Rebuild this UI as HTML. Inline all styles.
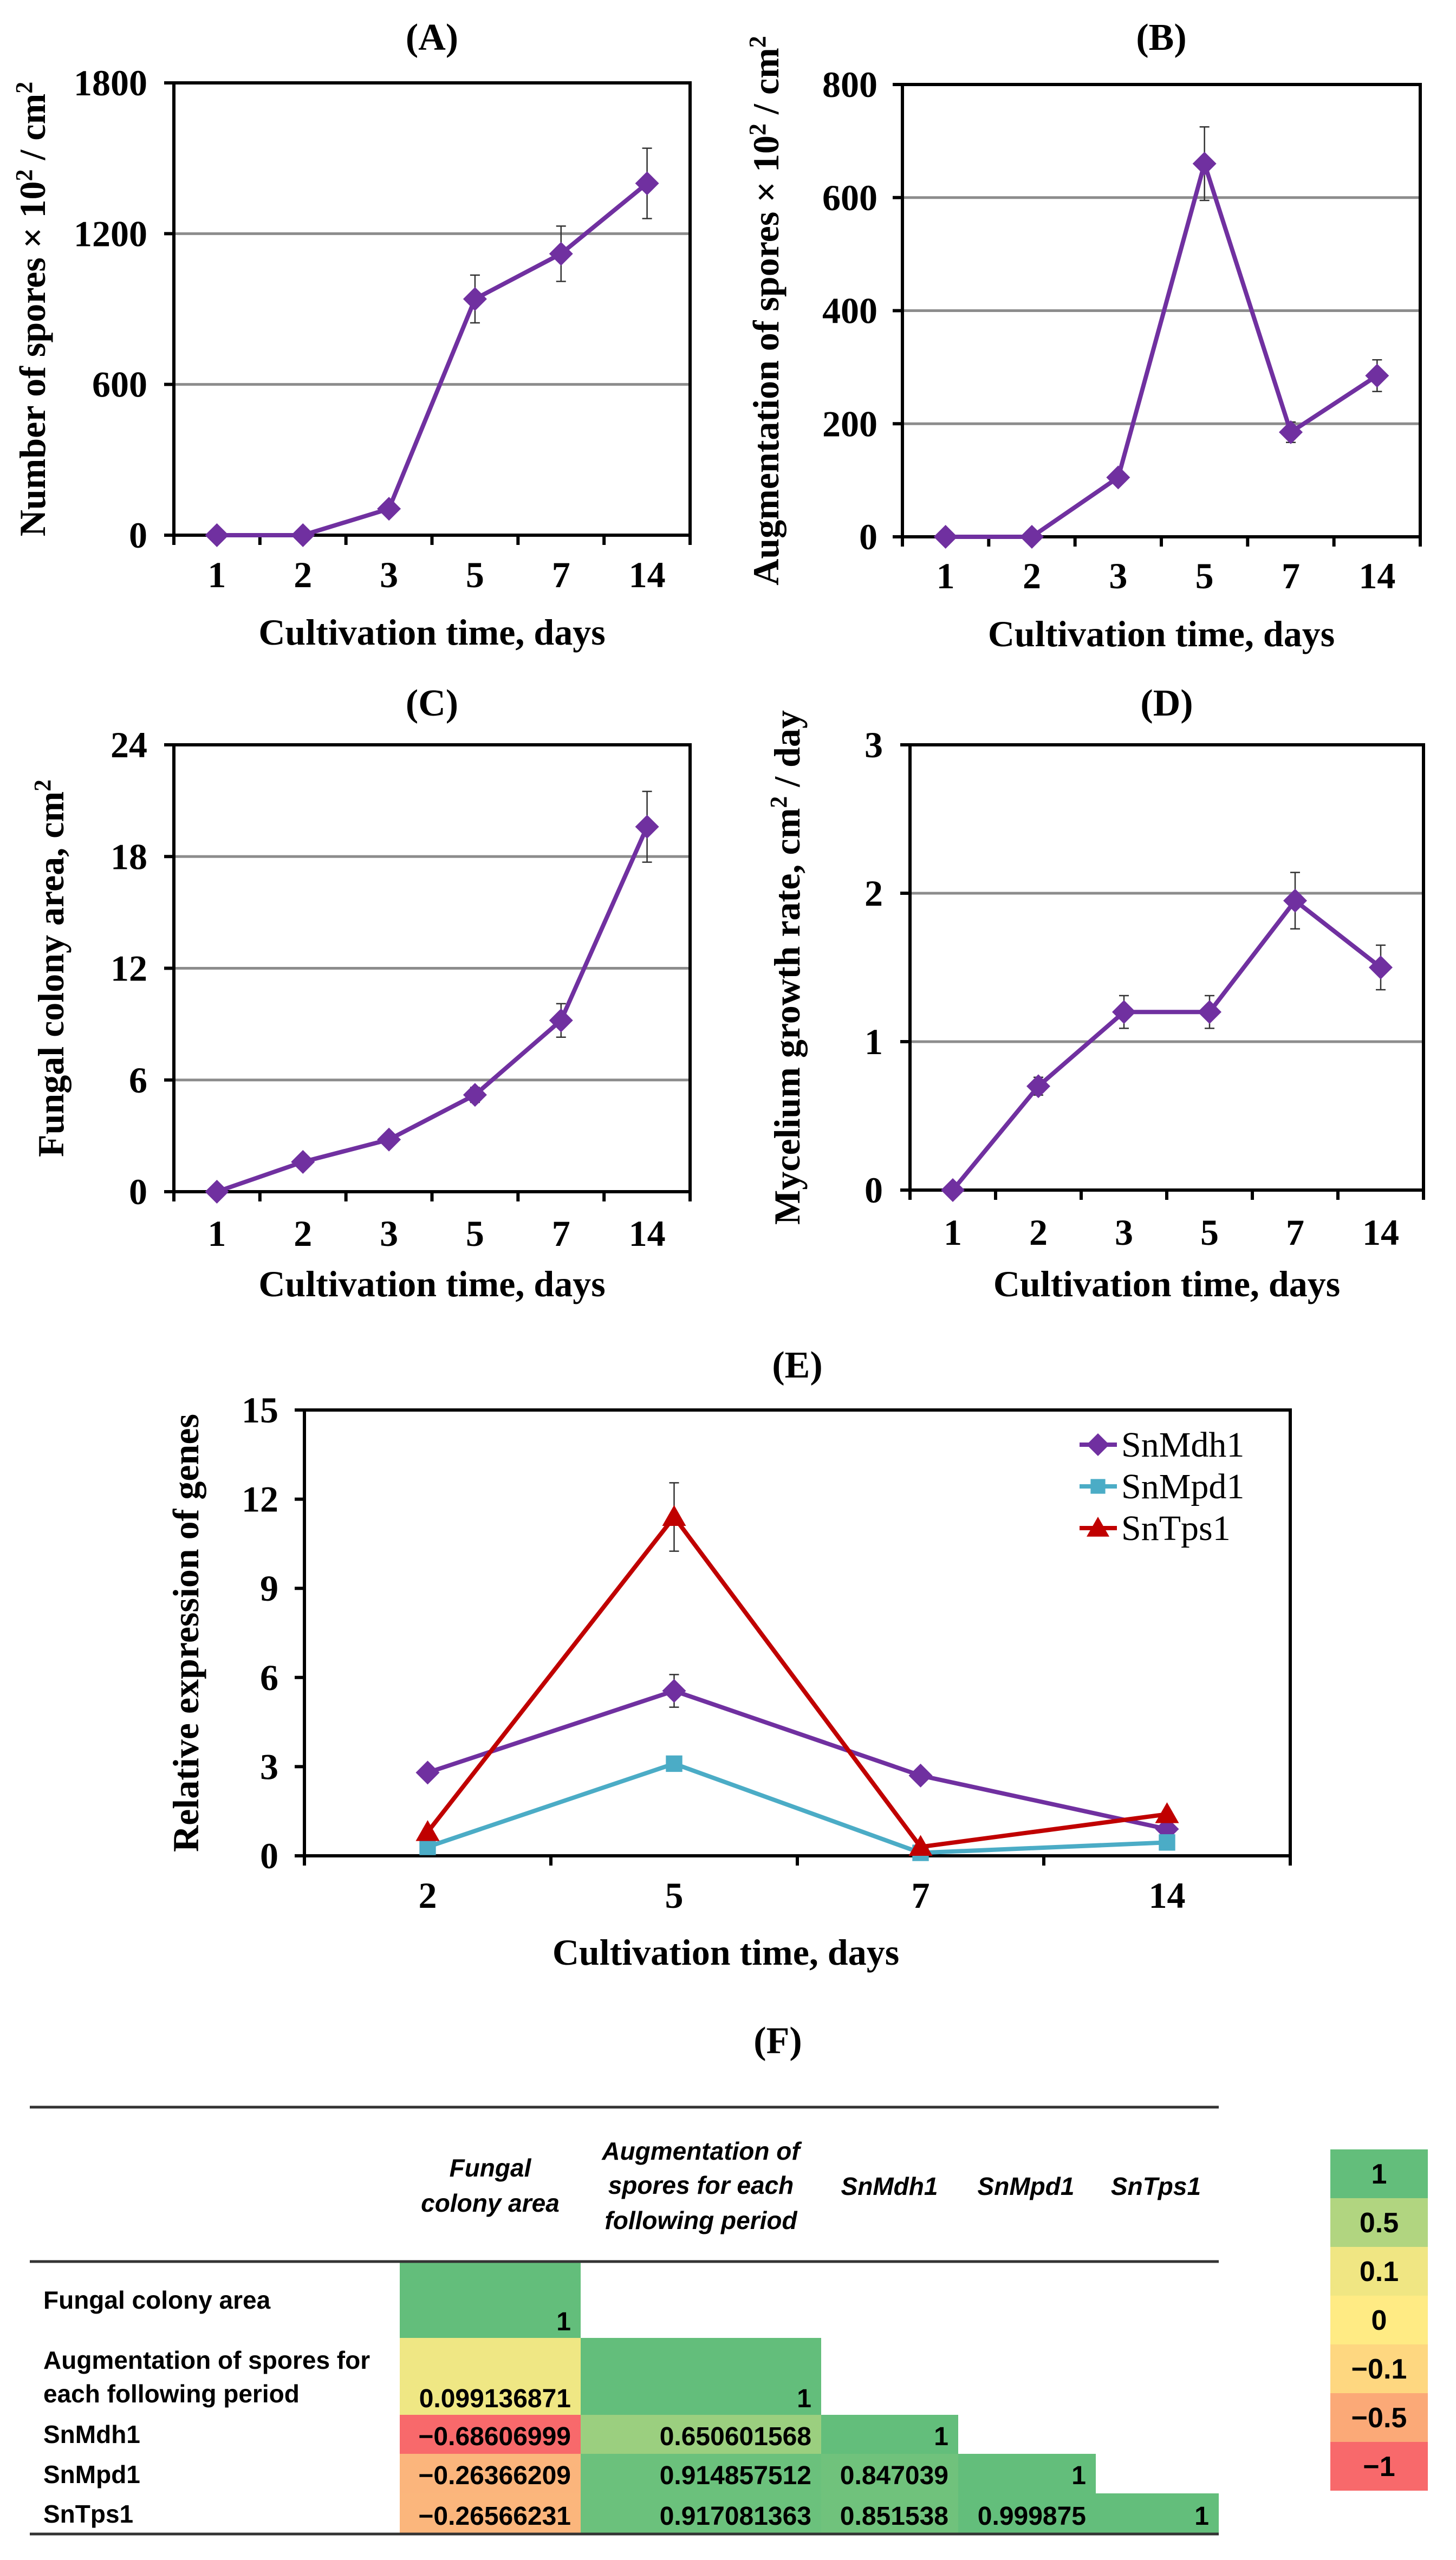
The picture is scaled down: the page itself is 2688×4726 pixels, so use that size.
<!DOCTYPE html>
<html><head><meta charset="utf-8">
<style>
html,body{margin:0;padding:0;background:#fff;}
svg{display:block;}
.t{font-family:"Liberation Serif",serif;font-weight:bold;fill:#000;}
.c{font-family:"Liberation Sans",sans-serif;fill:#000;}
</style></head>
<body>
<svg id="root" xmlns="http://www.w3.org/2000/svg" width="2688" height="4726" viewBox="0 0 2688 4726">
<rect x="0" y="0" width="2688" height="4726" fill="#fff"/>
</svg>
<script>
// ---------- data ----------
const daysAD = ["1","2","3","5","7","14"];
const sporesA = [0, 0, 105, 940, 1120, 1400];
const sporesAErr = [0, 0, 15, 95, 110, 140];
const augB = [0, 0, 105, 660, 185, 285];
const augBErr = [0, 0, 8, 65, 18, 28];
const areaC = [0, 1.6, 2.8, 5.2, 9.2, 19.6];
const areaCErr = [0, 0.2, 0.3, 0.4, 0.9, 1.9];
const rateD = [0, 0.7, 1.2, 1.2, 1.95, 1.5];
const rateDErr = [0, 0.06, 0.11, 0.11, 0.19, 0.15];
const ticksA = [0, 600, 1200, 1800];
const ticksB = [0, 200, 400, 600, 800];
const ticksC = [0, 6, 12, 18, 24];
const ticksD = [0, 1, 2, 3];
const daysE = ["2","5","7","14"];
const mdh1 = [2.8, 5.55, 2.7, 0.9];
const mdh1Err = [0.1, 0.55, 0.15, 0.1];
const mpd1 = [0.3, 3.1, 0.1, 0.45];
const mpd1Err = [0.05, 0.1, 0.03, 0.05];
const tps1 = [0.8, 11.4, 0.3, 1.4];
const tps1Err = [0.1, 1.15, 0.05, 0.1];
const ticksE = [0, 3, 6, 9, 12, 15];

const NS = "http://www.w3.org/2000/svg";
const root = document.getElementById("root");
function mk(tag, attrs, parent, text){
  const e = document.createElementNS(NS, tag);
  for (const k in attrs) e.setAttribute(k, attrs[k]);
  if (text !== undefined) e.textContent = text;
  (parent || root).appendChild(e);
  return e;
}
const PURPLE = "#7030a0";
const FS = 68;

function marker(g, shape, x, y, color, s){
  let m;
  if (shape === "diamond") {
    m = mk("polygon", {points:`${x},${y-s} ${x+s},${y} ${x},${y+s} ${x-s},${y}`, fill:color}, g);
  } else if (shape === "square") {
    m = mk("rect", {x:x-s*0.8, y:y-s*0.8, width:s*1.6, height:s*1.6, fill:color}, g);
  } else {
    m = mk("polygon", {points:`${x},${y-s} ${x+s},${y+s*0.75} ${x-s},${y+s*0.75}`, fill:color}, g);
  }
  return m;
}

function chart(o){
  const g = mk("g", {});
  
  
  const n = o.cats.length;
  const bw = (o.right - o.left) / n;
  const xs = i => o.left + bw * (i + 0.5);
  const ymax = o.ticks[o.ticks.length - 1];
  const ys = v => o.zero - (v / ymax) * (o.zero - o.top);
  if (o.grid) {
    o.ticks.forEach((t, i) => {
      if (i === 0 || i === o.ticks.length - 1) return;
      const gl = mk("line", {x1:o.left, x2:o.right, y1:ys(t), y2:ys(t), stroke:"#8c8c8c", "stroke-width":5}, g);
      
      
    });
  }
  const fr = mk("rect", {x:o.left, y:o.top, width:o.right-o.left, height:o.zero-o.top, fill:"none", stroke:"#000", "stroke-width":6}, g);
  
  
  o.ticks.forEach(t => {
    mk("line", {x1:o.left-18, x2:o.left, y1:ys(t), y2:ys(t), stroke:"#000", "stroke-width":6}, g);
    const tl = mk("text", {x:o.labRight, y:ys(t)+23, "text-anchor":"end", "font-size":FS, class:"t"}, g, String(t));
    
    
  });
  for (let i = 0; i <= n; i++) {
    const x = o.left + bw * i;
    mk("line", {x1:x, x2:x, y1:o.zero, y2:o.zero+18, stroke:"#000", "stroke-width":6}, g);
  }
  o.cats.forEach((c, i) => {
    const tl = mk("text", {x:xs(i), y:o.tickY+23, "text-anchor":"middle", "font-size":FS, class:"t"}, g, c);
    
    
  });
  const tt = mk("text", {x:(o.left+o.right)/2, y:o.titleY+23, "text-anchor":"middle", "font-size":70, class:"t"}, g, o.title);
  
  
  const xl = mk("text", {x:o.xlabX || (o.left+o.right)/2, y:o.xlabY+23, "text-anchor":"middle", "font-size":FS, class:"t"}, g, "Cultivation time, days");
  
  
  const cy = o.ylabY || (o.top + o.zero) / 2;
  const yl = mk("text", {x:0, y:0, transform:`translate(${o.ylabX+23},${cy}) rotate(-90)`, "text-anchor":"middle", "font-size":FS, class:"t"}, g);
  
  
  o.ylab.forEach(p => {
    mk("tspan", p.sup ? {"baseline-shift":"super", "font-size":44} : {}, yl, p.t);
  });
  o.series.forEach(s => {
    const sg = mk("g", {}, g);
    
    
    s.err.forEach((e, i) => {
      if (e <= 0) return;
      const x = xs(i), y1 = ys(s.vals[i]-e), y2 = ys(s.vals[i]+e);
      mk("line", {x1:x, x2:x, y1:y1, y2:y2, stroke:"#333", "stroke-width":2.5}, sg);
      mk("line", {x1:x-9, x2:x+9, y1:y1, y2:y1, stroke:"#333", "stroke-width":2.5}, sg);
      mk("line", {x1:x-9, x2:x+9, y1:y2, y2:y2, stroke:"#333", "stroke-width":2.5}, sg);
    });
    const pts = s.vals.map((v, i) => `${xs(i)},${ys(v)}`).join(" ");
    const pl = mk("polyline", {points:pts, fill:"none", stroke:s.color, "stroke-width":8, "stroke-linejoin":"round"}, sg);
    
    
    s.vals.forEach((v, i) => {
      const m = marker(sg, s.shape, xs(i), ys(v), s.color, s.size || 22);
      
      
    });
  });
  return {g, xs, ys};
}

chart({name:"chart-a-spores", title:"(A)", cats:daysAD, ticks:ticksA, grid:true,
  left:321, right:1274, top:153, zero:988, labRight:272, tickY:1061, titleY:69, xlabY:1167, ylabX:60,
  ylab:[{t:"Number of spores × 10"},{t:"2",sup:true},{t:" / cm"},{t:"2",sup:true}],
  series:[{name:"series-spores", vals:sporesA, err:sporesAErr, color:PURPLE, shape:"diamond"}]});

chart({name:"chart-b-augmentation", title:"(B)", cats:daysAD, ticks:ticksB, grid:true,
  left:1666, right:2622, top:156, zero:991, labRight:1620, tickY:1063, titleY:69, xlabY:1170, ylabX:1414,
  ylab:[{t:"Augmentation of spores × 10"},{t:"2",sup:true},{t:" / cm"},{t:"2",sup:true}],
  series:[{name:"series-augmentation", vals:augB, err:augBErr, color:PURPLE, shape:"diamond"}]});

chart({name:"chart-c-colony-area", title:"(C)", cats:daysAD, ticks:ticksC, grid:true,
  left:321, right:1274, top:1375, zero:2200, labRight:272, tickY:2277, titleY:1298, xlabY:2370, ylabX:94,
  ylab:[{t:"Fungal colony area,  cm"},{t:"2",sup:true}],
  series:[{name:"series-colony-area", vals:areaC, err:areaCErr, color:PURPLE, shape:"diamond"}]});

chart({name:"chart-d-growth-rate", title:"(D)", cats:daysAD, ticks:ticksD, grid:true,
  left:1680, right:2628, top:1375, zero:2197, labRight:1630, tickY:2275, titleY:1298, xlabY:2370, ylabX:1453,
  ylab:[{t:"Mycelium growth rate,  cm"},{t:"2",sup:true},{t:" / day"}],
  series:[{name:"series-growth-rate", vals:rateD, err:rateDErr, color:PURPLE, shape:"diamond"}]});

chart({name:"chart-e-gene-expression", title:"(E)", cats:daysE, ticks:ticksE, grid:false,
  left:562, right:2382, top:2603, zero:3426, labRight:514, tickY:3499, titleY:2520, xlabY:3604, xlabX:1340, ylabX:343,
  ylab:[{t:"Relative expression of genes"}],
  series:[
    {name:"series-snmdh1", vals:mdh1, err:mdh1Err, color:PURPLE, shape:"diamond"},
    {name:"series-snmpd1", vals:mpd1, err:mpd1Err, color:"#4bacc6", shape:"square", size:19},
    {name:"series-sntps1", vals:tps1, err:tps1Err, color:"#c00000", shape:"triangle"}
  ]});

const legNames = ["SnMdh1","SnMpd1","SnTps1"];
const legColors = [PURPLE, "#4bacc6", "#c00000"];
const legShapes = ["diamond","square","triangle"];
const lg = mk("g", {});


legNames.forEach((nm, i) => {
  const y = 2667 + i * 77;
  const eg = mk("g", {}, lg);
  
  
  mk("line", {x1:1993, x2:2062, y1:y, y2:y, stroke:legColors[i], "stroke-width":8}, eg);
  marker(eg, legShapes[i], 2027, y, legColors[i], legShapes[i]==="square"?17:21);
  mk("text", {x:2070, y:y+22, "font-size":66, "font-family":"Liberation Serif, serif", fill:"#000"}, eg, nm);
});

// ---------- table F ----------
const ft = mk("text", {x:1436, y:3767+23, "text-anchor":"middle", "font-size":70, class:"t"}, root, "(F)");



const tg = mk("g", {});


const colX = [738, 1072, 1516, 1769, 2023, 2250];
const rowY = [4175, 4316, 4458, 4530, 4603, 4678];
const rowLabels = [["Fungal colony area"],["Augmentation of  spores for","each following period"],["SnMdh1"],["SnMpd1"],["SnTps1"]];
const rowLabelY = [[4246],[4357,4419],[4494],[4568],[4641]];
const corr = [
  ["1"],
  ["0.099136871","1"],
  ["\u22120.68606999","0.650601568","1"],
  ["\u22120.26366209","0.914857512","0.847039","1"],
  ["\u22120.26566231","0.917081363","0.851538","0.999875","1"]];
const colors = [
  ["#63be7b"],
  ["#efe784","#63be7b"],
  ["#f8696b","#9bcf7f","#63be7b"],
  ["#fbb57c","#6bc17c","#70c27c","#63be7b"],
  ["#fbb67c","#6bc17c","#70c27c","#63be7b","#63be7b"]];
const valY = [4285, 4427, 4497, 4569, 4644];

corr.forEach((row, r) => {
  row.forEach((v, c) => {
    const cell = mk("rect", {x:colX[c], y:rowY[r], width:colX[c+1]-colX[c], height:rowY[r+1]-rowY[r], fill:colors[r][c]}, tg);
    
    
    mk("text", {x:colX[c+1]-18, y:valY[r]+17, "text-anchor":"end", "font-size":48, "font-weight":"bold", class:"c"}, tg, v);
  });
  rowLabels[r].forEach((l, k) => {
    const rl = mk("text", {x:80, y:rowLabelY[r][k]+16, "font-size":46, "font-weight":"bold", class:"c"}, tg, l);
    
    
  });
});
const headers = [
  {x:905, lines:["Fungal","colony area"], ys:[4002,4067]},
  {x:1294, lines:["Augmentation of","spores for each","following period"], ys:[3971,4034,4099]},
  {x:1642, lines:["SnMdh1"], ys:[4036]},
  {x:1894, lines:["SnMpd1"], ys:[4036]},
  {x:2134, lines:["SnTps1"], ys:[4036]}];
headers.forEach(h => {
  h.lines.forEach((l, k) => {
    const ht = mk("text", {x:h.x, y:h.ys[k]+16, "text-anchor":"middle", "font-size":46, "font-style":"italic", "font-weight":"bold", class:"c"}, tg, l);
    
    
  });
});
[3890, 4175, 4678].forEach(y => mk("line", {x1:55, x2:2250, y1:y, y2:y, stroke:"#333", "stroke-width":5}, tg));

const scaleLabels = ["1","0.5","0.1","0","\u22120.1","\u22120.5","\u22121"];
const scaleColors = ["#63be7b","#b1d580","#f0e683","#ffeb84","#fed780","#fba977","#f8696b"];
const sg = mk("g", {});


scaleLabels.forEach((l, i) => {
  const y = 3968 + i * 90;
  const r = mk("rect", {x:2456, y:y, width:180, height:90, fill:scaleColors[i]}, sg);
  
  
  mk("text", {x:2546, y:y+63, "text-anchor":"middle", "font-size":52, "font-weight":"bold", class:"c"}, sg, l);
});
</script>
</body></html>
